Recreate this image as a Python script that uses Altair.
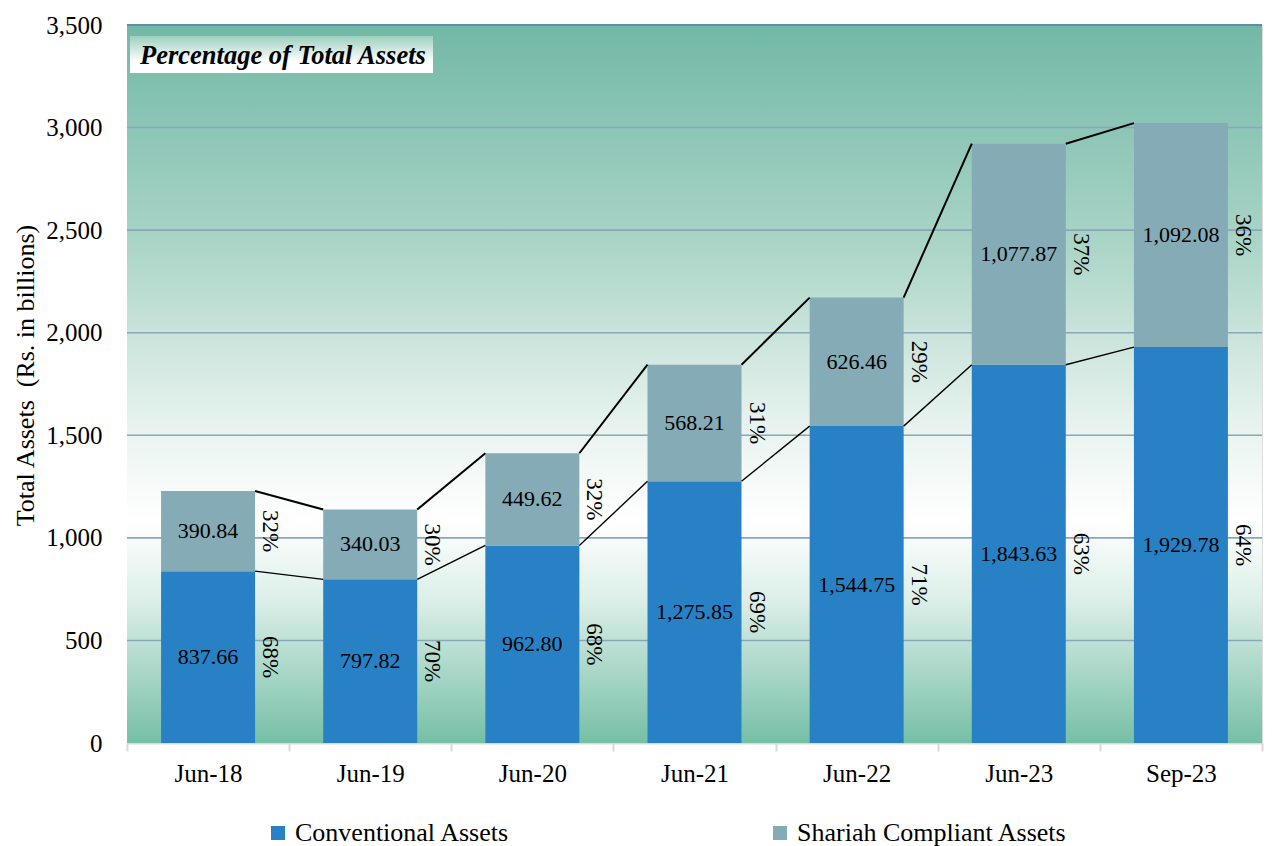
import altair as alt
import pandas as pd

categories = ["Jun-18", "Jun-19", "Jun-20", "Jun-21", "Jun-22", "Jun-23", "Sep-23"]
conventional = [837.66, 797.82, 962.80, 1275.85, 1544.75, 1843.63, 1929.78]
shariah = [390.84, 340.03, 449.62, 568.21, 626.46, 1077.87, 1092.08]
conventional_pct = [68, 70, 68, 69, 71, 63, 64]
shariah_pct = [32, 30, 32, 31, 29, 37, 36]
series_names = ["Conventional Assets", "Shariah Compliant Assets"]
series_colors = ["#2981c5", "#84abb6"]
y_ticks = [0, 500, 1000, 1500, 2000, 2500, 3000, 3500]
panel_title = "Percentage of Total Assets"
y_title = "Total Assets\u00a0\u00a0(Rs. in billions)"

FONT = "Liberation Serif"
W, H = 1135, 718
BAR = 94

rows = []
for i, c in enumerate(categories):
    rows.append(dict(cat=c, series=series_names[0], value=conventional[i],
                     start=0, end=conventional[i], mid=conventional[i] / 2,
                     pct=f"{conventional_pct[i]}%", order=0))
    rows.append(dict(cat=c, series=series_names[1], value=shariah[i],
                     start=conventional[i], end=conventional[i] + shariah[i],
                     mid=conventional[i] + shariah[i] / 2,
                     pct=f"{shariah_pct[i]}%", order=1))
df = pd.DataFrame(rows)

lrows = []
for i in range(len(categories) - 1):
    lrows.append(dict(cat=categories[i], nxt=categories[i + 1],
                      y0=conventional[i] + shariah[i],
                      y1=conventional[i + 1] + shariah[i + 1], kind="top"))
    lrows.append(dict(cat=categories[i], nxt=categories[i + 1],
                      y0=conventional[i], y1=conventional[i + 1], kind="mid"))
ldf = pd.DataFrame(lrows)

yscale = alt.Scale(domain=[0, 3500], nice=False, zero=True)
xscale = alt.Scale(paddingInner=0, paddingOuter=0)
xenc = alt.X("cat:N", sort=categories, scale=xscale,
             axis=alt.Axis(title=None, tickBand="extent", grid=False, labelAngle=0,
                           domainColor="#d9d9d9", domainWidth=2,
                           tickColor="#d9d9d9", tickWidth=2, tickSize=8,
                           labelFontSize=25, labelPadding=10, labelColor="black",
                           labelFont=FONT))

bg_grad = {
    "gradient": "linear", "x1": 0, "y1": 0, "x2": 0, "y2": 1,
    "stops": [
        {"offset": 0.0, "color": "#72b8a6"},
        {"offset": 0.3, "color": "#a9d4c6"},
        {"offset": 0.55, "color": "#e6f2ee"},
        {"offset": 0.69, "color": "#ffffff"},
        {"offset": 0.8, "color": "#dcefe8"},
        {"offset": 1.0, "color": "#76bfa7"},
    ],
}
one = pd.DataFrame({"k": [0]})

bg = alt.Chart(one).mark_rect(fill=bg_grad).encode(
    x=alt.value(0), x2=alt.value(W), y=alt.value(0), y2=alt.value(H))

grid = alt.Chart(pd.DataFrame({"v": y_ticks[1:-1]})).mark_rule(
    color="#8aa6bb", strokeWidth=1.6).encode(
    y=alt.Y("v:Q", scale=yscale))

top_border = alt.Chart(pd.DataFrame({"v": y_ticks[-1:]})).mark_rule(
    color="#5f8ea3", strokeWidth=2).encode(
    y=alt.Y("v:Q", scale=yscale))

bars = alt.Chart(df).mark_bar(size=BAR).encode(
    x=xenc,
    y=alt.Y("start:Q", scale=yscale,
            axis=alt.Axis(title=y_title, values=y_ticks,
                          format=",d", grid=False, domain=False, ticks=False,
                          labelFontSize=25, labelPadding=25, labelColor="black",
                          labelFont=FONT, titleFont=FONT, titleFontSize=26,
                          titleFontWeight="normal", titleColor="black",
                          titlePadding=7, titleY=350)),
    y2="end:Q",
    color=alt.Color("series:N", scale=alt.Scale(domain=series_names, range=series_colors),
                    legend=alt.Legend(title=None, orient="none", direction="horizontal",
                                      legendX=138, legendY=795, symbolType="square",
                                      symbolSize=196, symbolStrokeWidth=0,
                                      labelFont=FONT, labelFontSize=26,
                                      labelColor="black", labelLimit=400,
                                      columnPadding=257, labelOffset=4)),
)

top_lines = alt.Chart(ldf).transform_filter("datum.kind == 'top'").mark_rule(
    color="black", strokeWidth=2, xOffset=BAR / 2, x2Offset=-BAR / 2).encode(
    x=alt.X("cat:N", sort=categories, scale=xscale), x2="nxt:N",
    y=alt.Y("y0:Q", scale=yscale), y2="y1:Q")

mid_lines = alt.Chart(ldf).transform_filter("datum.kind == 'mid'").mark_rule(
    color="black", strokeWidth=1.4, xOffset=BAR / 2, x2Offset=-BAR / 2).encode(
    x=alt.X("cat:N", sort=categories, scale=xscale), x2="nxt:N",
    y=alt.Y("y0:Q", scale=yscale), y2="y1:Q")

values = alt.Chart(df).mark_text(font=FONT, fontSize=22, color="black").encode(
    x=alt.X("cat:N", sort=categories, scale=xscale),
    y=alt.Y("mid:Q", scale=yscale),
    text=alt.Text("value:Q", format=",.2f"))

pcts = alt.Chart(df).mark_text(font=FONT, fontSize=23, color="black", angle=90,
                               xOffset=62, align="center", baseline="middle").encode(
    x=alt.X("cat:N", sort=categories, scale=xscale),
    y=alt.Y("mid:Q", scale=yscale),
    text="pct:N")

title_grad = {
    "gradient": "linear", "x1": 0, "y1": 0, "x2": 0, "y2": 1,
    "stops": [{"offset": 0.0, "color": "#9ccfbd"},
              {"offset": 0.7, "color": "#ffffff"},
              {"offset": 1.0, "color": "#ffffff"}],
}
tbox = alt.Chart(one).mark_rect(fill=title_grad).encode(
    x=alt.value(3), x2=alt.value(306), y=alt.value(11), y2=alt.value(48))
ttext = alt.Chart(pd.DataFrame({"t": [panel_title]})).mark_text(
    font=FONT, fontSize=26.5, fontWeight="bold", fontStyle="italic", color="black",
    align="left", baseline="middle").encode(
    x=alt.value(13), y=alt.value(31), text="t:N")

chart = alt.layer(bg, grid, top_border, bars, top_lines, mid_lines, values, pcts,
                  tbox, ttext).properties(
    width=W, height=H,
    padding={"left": 119, "top": 17, "right": 3, "bottom": 103},
    autosize=alt.AutoSizeParams(type="none"),
).configure_view(stroke=None).configure(background="white")

chart.save("out.html", embed_options={"renderer": "svg", "actions": False})
